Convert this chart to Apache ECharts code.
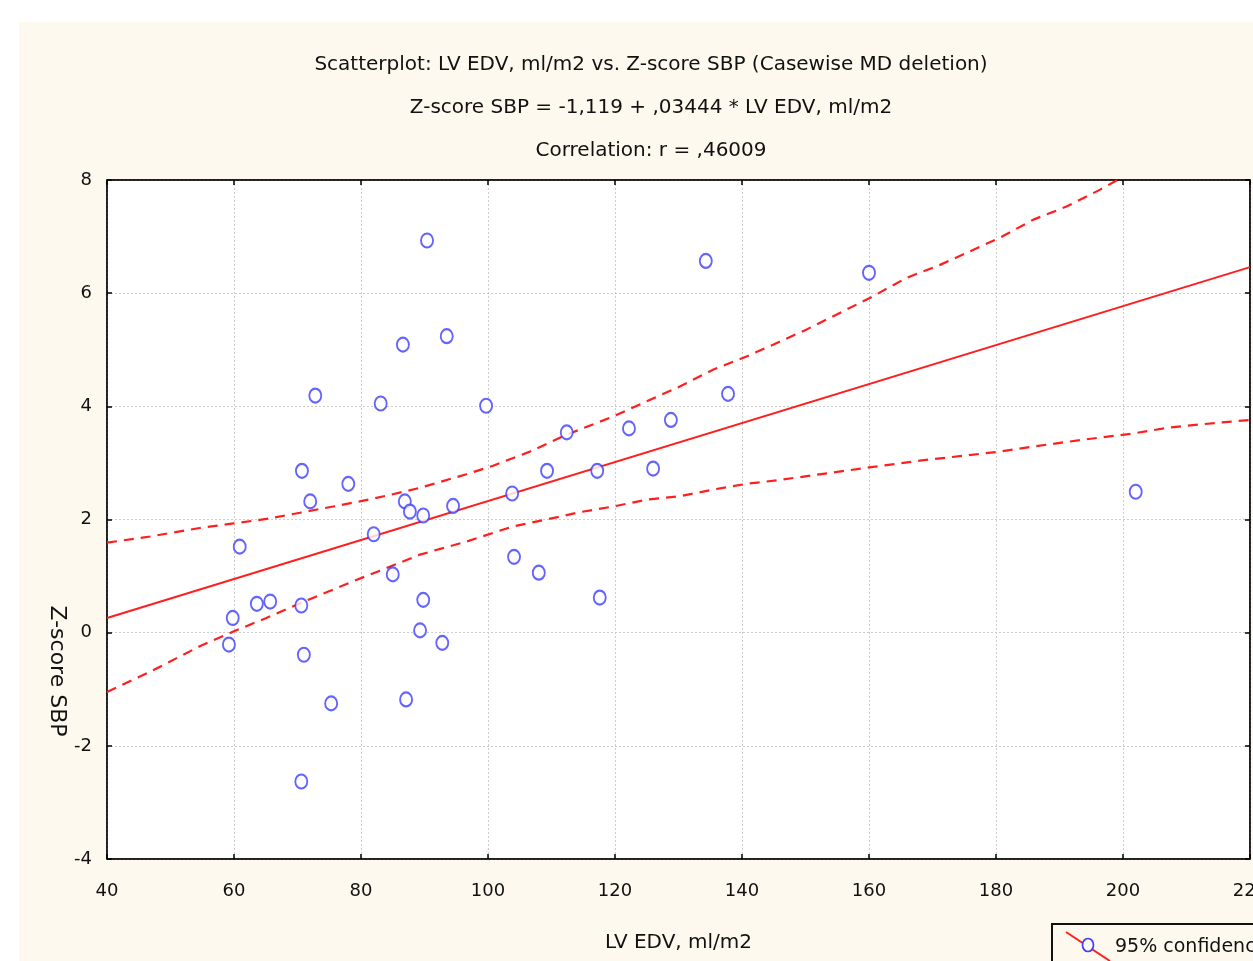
<!DOCTYPE html>
<html>
<head>
<meta charset="utf-8">
<script src="https://cdn.jsdelivr.net/npm/echarts@6/dist/echarts.min.js"></script>
<style>
  html, body { margin: 0; padding: 0; background: #ffffff; overflow: hidden; }
  #bg { position: absolute; left: 19px; top: 22px; width: 1234px; height: 939px; background: #fdf9ee; }
  #chart { position: absolute; left: 0; top: 0; width: 1253px; height: 961px; }
</style>
</head>
<body>
<div id="bg"></div>
<div id="chart"></div>
<script>
// ---- data ----
const titleLines = [
  'Scatterplot: LV EDV, ml/m2 vs. Z-score SBP (Casewise MD deletion)',
  'Z-score SBP = -1,119 + ,03444 * LV EDV, ml/m2',
  'Correlation: r = ,46009'
];
const xAxisName = 'LV EDV, ml/m2';
const yAxisName = 'Z-score SBP';
const legendLabel = '95% confidence';

const xTicks = [40, 60, 80, 100, 120, 140, 160, 180, 200, 220];
const yTicks = [-4, -2, 0, 2, 4, 6, 8];

// observed points (LV EDV, Z-score SBP)
const lvEdv = [90.4, 134.3, 160.0, 93.5, 86.6, 72.8, 83.1, 99.7, 137.8, 128.8,
               122.2, 112.4, 70.7, 78.0, 109.3, 117.2, 126.0, 72.0, 86.9, 87.7,
               89.8, 94.5, 103.8, 82.0, 60.9, 104.1, 85.0, 108.0, 89.8, 117.6,
               63.6, 65.7, 70.6, 59.8, 89.3, 59.2, 92.8, 71.0, 75.3, 87.1,
               70.6, 202.0];
const zSbp  = [6.93, 6.57, 6.36, 5.24, 5.09, 4.19, 4.05, 4.01, 4.22, 3.76,
               3.61, 3.54, 2.86, 2.63, 2.86, 2.86, 2.90, 2.32, 2.32, 2.14,
               2.07, 2.24, 2.46, 1.74, 1.52, 1.34, 1.03, 1.06, 0.58, 0.62,
               0.51, 0.55, 0.48, 0.26, 0.04, -0.21, -0.18, -0.39, -1.25, -1.18,
               -2.63, 2.49];

// regression line end points
const fitX = [40, 220];
const fitY = [0.26, 6.46];

// 95% confidence band, upper
const upX = [40, 46.8, 54.6, 59.9, 65.1, 70.4, 75.6, 79.8, 84.0, 89.3, 96.6, 100.8,
             106.6, 112.4, 119.7, 125.0, 130.2, 135.5, 140.7, 144.9, 150.2, 155.4,
             160.2, 165.9, 171.2, 180.6, 185.9, 191.1, 196.4, 199.3, 205, 220];
const upY = [1.59, 1.70, 1.85, 1.93, 2.01, 2.12, 2.23, 2.32, 2.42, 2.56, 2.80, 2.95,
             3.20, 3.50, 3.82, 4.09, 4.35, 4.65, 4.88, 5.09, 5.36, 5.65,
             5.92, 6.27, 6.50, 6.98, 7.30, 7.53, 7.83, 8.01, 8.30, 9.00];
// 95% confidence band, lower
const loX = [40, 46.8, 54.6, 59.9, 65.1, 70.4, 75.6, 78.8, 84.0, 89.3, 96.6, 104.0,
             109.2, 114.5, 119.7, 125.0, 130.2, 135.5, 140.7, 146.0, 160.0, 168.0,
             180.6, 185.9, 193.7, 201.6, 206.9, 212.1, 220];
const loY = [-1.05, -0.69, -0.24, 0.02, 0.26, 0.52, 0.76, 0.91, 1.14, 1.38, 1.61, 1.88,
             2.00, 2.13, 2.23, 2.35, 2.41, 2.53, 2.63, 2.70, 2.92, 3.04,
             3.20, 3.29, 3.41, 3.52, 3.62, 3.68, 3.76];

// ---- chart ----
const zip = (a, b) => a.map((v, i) => [v, b[i]]);
const RED = '#ff1e1e';
const BLUE = '#3d3dff';
const FONT = 'DejaVu Sans';
const gridLine = { show: true, lineStyle: { color: '#cdcdcd', type: [2, 2], width: 1 } };
const axisLine = { show: true, onZero: false, lineStyle: { color: '#000', width: 1.5 } };
const axisTick = { show: true, inside: true, length: 5, lineStyle: { color: '#000', width: 1.5 } };

const xBase = { type: 'value', min: xTicks[0], max: xTicks[xTicks.length - 1], interval: 20 };
const yBase = { type: 'value', min: yTicks[0], max: yTicks[yTicks.length - 1], interval: 2 };

const chart = echarts.init(document.getElementById('chart'), null, { renderer: 'canvas', width: 1253, height: 961 });
chart.setOption({
  backgroundColor: 'transparent',
  animation: false,
  grid: { left: 107, top: 180, right: 3, bottom: 102, show: true, backgroundColor: '#ffffff', borderColor: '#000', borderWidth: 1,
          containLabel: false, outerBoundsMode: 'none' },
  xAxis: [
    Object.assign({}, xBase, {
      position: 'bottom',
      name: xAxisName, nameLocation: 'middle', nameGap: 74,
      nameTextStyle: { fontFamily: FONT, fontSize: 20, color: '#111' },
      axisLine: axisLine, axisTick: axisTick,
      axisLabel: { fontFamily: FONT, fontSize: 18, color: '#111', margin: 23, showMaxLabel: true, hideOverlap: false },
      splitLine: gridLine
    }),
    Object.assign({}, xBase, {
      position: 'top',
      axisLine: axisLine, axisTick: axisTick,
      axisLabel: { show: false },
      splitLine: { show: false }
    })
  ],
  yAxis: [
    Object.assign({}, yBase, {
      position: 'left',
      axisLine: axisLine, axisTick: axisTick,
      axisLabel: { fontFamily: FONT, fontSize: 18, color: '#111', margin: 15 },
      splitLine: gridLine
    }),
    Object.assign({}, yBase, {
      position: 'right',
      axisLine: axisLine, axisTick: axisTick,
      axisLabel: { show: false },
      splitLine: { show: false }
    })
  ],
  series: [
    {
      type: 'line', name: 'upper', data: zip(upX, upY), showSymbol: false, symbol: 'none',
      lineStyle: { color: RED, width: 2.2, type: [10, 7] }, clip: true, z: 3
    },
    {
      type: 'line', name: 'lower', data: zip(loX, loY), showSymbol: false, symbol: 'none',
      lineStyle: { color: RED, width: 2.2, type: [10, 7] }, clip: true, z: 3
    },
    {
      type: 'line', name: 'fit', data: zip(fitX, fitY), showSymbol: false, symbol: 'none',
      lineStyle: { color: RED, width: 2 }, clip: true, z: 3
    },
    {
      type: 'scatter', name: 'obs', data: zip(lvEdv, zSbp),
      symbol: 'emptyCircle', symbolSize: [12, 14],
      itemStyle: { color: BLUE, borderColor: BLUE, borderWidth: 1.7 }, z: 4
    }
  ],
  graphic: [
    { type: 'text', x: 651, y: 65, style: { text: titleLines[0], font: '20px "' + FONT + '"', fill: '#111', textAlign: 'center', textVerticalAlign: 'middle' } },
    { type: 'text', x: 651, y: 108, style: { text: titleLines[1], font: '20px "' + FONT + '"', fill: '#111', textAlign: 'center', textVerticalAlign: 'middle' } },
    { type: 'text', x: 651, y: 151, style: { text: titleLines[2], font: '20px "' + FONT + '"', fill: '#111', textAlign: 'center', textVerticalAlign: 'middle' } },
    { type: 'text', x: 57, y: 671, rotation: -Math.PI / 2, style: { text: yAxisName, font: '22px "' + FONT + '"', fill: '#111', textAlign: 'center', textVerticalAlign: 'middle' } },
    { type: 'rect', shape: { x: 1052, y: 924, width: 260, height: 60 }, style: { fill: '#fdf9ee', stroke: '#111', lineWidth: 2 } },
    { type: 'line', shape: { x1: 1066, y1: 932, x2: 1110, y2: 961 }, style: { stroke: RED, lineWidth: 2 } },
    { type: 'ellipse', shape: { cx: 1088, cy: 945, rx: 5.5, ry: 6.5 }, style: { fill: '#fdf9ee', stroke: BLUE, lineWidth: 1.7 } },
    { type: 'text', x: 1115, y: 947, style: { text: legendLabel, font: '19px "' + FONT + '"', fill: '#111', textAlign: 'left', textVerticalAlign: 'middle' } }
  ]
});
</script>
</body>
</html>
